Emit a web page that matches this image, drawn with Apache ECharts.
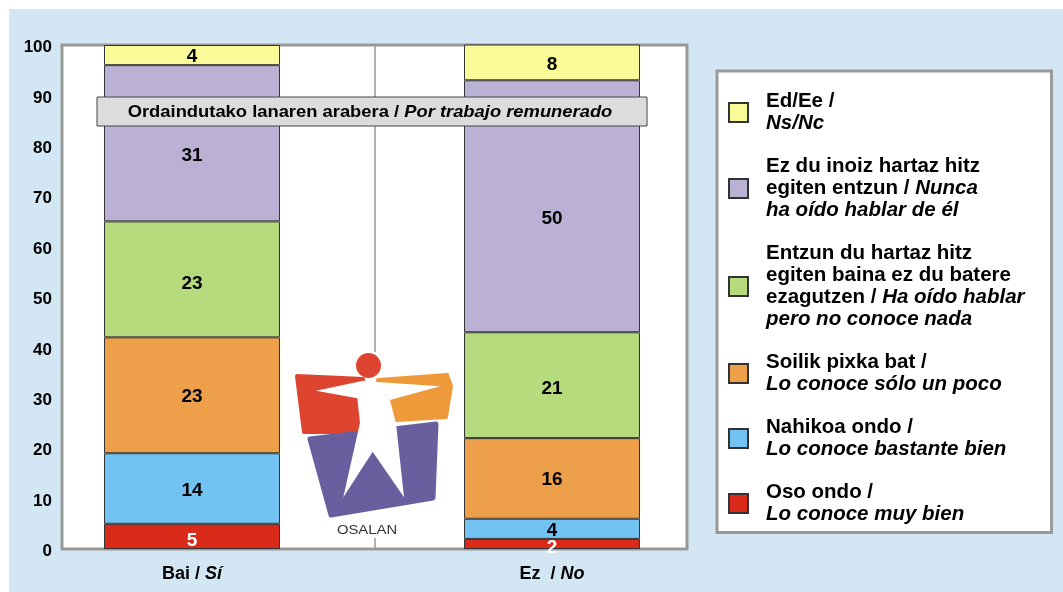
<!DOCTYPE html>
<html>
<head>
<meta charset="utf-8">
<script src="https://cdn.jsdelivr.net/npm/echarts@6/dist/echarts.min.js"></script>
<style>html,body{margin:0;padding:0;background:#fff;}#c{width:1063px;height:592px;}</style>
</head>
<body>
<div id="c"></div>
<script>
// ---- data ----
const categories = ['Bai / Sí', 'Ez  / No'];
const seriesNames = [
  'Oso ondo / Lo conoce muy bien',
  'Nahikoa ondo / Lo conoce bastante bien',
  'Soilik pixka bat / Lo conoce sólo un poco',
  'Entzun du hartaz hitz egiten baina ez du batere ezagutzen / Ha oído hablar pero no conoce nada',
  'Ez du inoiz hartaz hitz egiten entzun / Nunca ha oído hablar de él',
  'Ed/Ee / Ns/Nc'
];
const osoOndo     = [5, 2];
const nahikoaOndo = [14, 4];
const soilik      = [23, 16];
const entzunDu    = [23, 21];
const ezDuInoiz   = [31, 50];
const edEe        = [4, 8];
const legendLabels = [
  '{b|Oso ondo /}\n{i|Lo conoce muy bien}',
  '{b|Nahikoa ondo /}\n{i|Lo conoce bastante bien}',
  '{b|Soilik pixka bat /}\n{i|Lo conoce sólo un poco}',
  '{b|Entzun du hartaz hitz}\n{b|egiten baina ez du batere}\n{b|ezagutzen / }{i|Ha oído hablar}\n{i|pero no conoce nada}',
  '{b|Ez du inoiz hartaz hitz}\n{b|egiten entzun / }{i|Nunca}\n{i|ha oído hablar de él}',
  '{b|Ed/Ee /}\n{i|Ns/Nc}'
];
const bannerEu = 'Ordaindutako lanaren arabera / ';
const bannerEs = 'Por trabajo remunerado';
const logoText = 'OSALAN';

// ---- styling ----
const FONT = '"Liberation Sans", Arial, Helvetica, sans-serif';
const colors = ['#DA2A1A', '#73C3F2', '#EE9F4A', '#B5DB7D', '#BBB1D5', '#FAFA98'];
const values = [osoOndo, nahikoaOndo, soilik, entzunDu, ezDuInoiz, edEe];
const labelOffsets = [[0, 4], [0, 2], [0, 1], [0, 4], [0, 12], [0, 2]];

const chart = echarts.init(document.getElementById('c'), null, {renderer: 'canvas'});

const series = values.map((v, i) => ({
  name: seriesNames[i],
  type: 'bar',
  stack: 'total',
  xAxisIndex: 1,
  yAxisIndex: 1,
  barWidth: 176,
  data: v,
  itemStyle: {color: colors[i], borderColor: '#333', borderWidth: 1},
  label: {
    show: true,
    position: 'inside',
    offset: labelOffsets[i],
    formatter: '{c}',
    fontFamily: FONT,
    fontWeight: 'bold',
    fontSize: 19,
    color: i === 0 ? '#fff' : '#000'
  },
  emphasis: {disabled: true}
}));

const legendMap = {};
seriesNames.forEach((n, i) => legendMap[n] = legendLabels[i]);

const option = {
  backgroundColor: '#D3E6F4',
  animation: false,
  textStyle: {fontFamily: FONT},
  grid: [
    {left: 62, right: 376, top: 45, bottom: 43, show: true, backgroundColor: '#fff', borderColor: '#999', borderWidth: 3},
    {left: 12, right: 331, top: 45, bottom: 43}
  ],
  xAxis: [
    {gridIndex: 0, type: 'category', data: categories,
     axisLabel: {show: false}, axisLine: {show: false}, axisTick: {show: false},
     splitLine: {show: true, interval: 0, lineStyle: {color: '#999', width: 1.5}}},
    {gridIndex: 1, type: 'category', data: categories,
     axisLine: {show: false}, axisTick: {show: false},
     axisLabel: {
       margin: 16,
       formatter: function (val) {
         const k = val.indexOf('/');
         return '{b|' + val.slice(0, k + 1) + ' }{i|' + val.slice(k + 1).trim() + '}';
       },
       rich: {
         b: {fontFamily: FONT, fontWeight: 'bold', fontSize: 18, color: '#000'},
         i: {fontFamily: FONT, fontWeight: 'bold', fontStyle: 'italic', fontSize: 18, color: '#000'}
       }
     }}
  ],
  yAxis: [
    {gridIndex: 0, type: 'value', min: 0, max: 100, interval: 10,
     axisLine: {show: false}, axisTick: {show: false}, splitLine: {show: false},
     axisLabel: {
       margin: 10,
       formatter: v => '{n|' + v + '}',
       rich: {n: {fontFamily: FONT, fontWeight: 'bold', fontSize: 17, color: '#000', padding: [5, 0, 0, 0]}}
     }},
    {gridIndex: 1, type: 'value', min: 0, max: 100, show: false}
  ],
  legend: {
    orient: 'vertical',
    left: 717,
    top: 71,
    data: seriesNames.slice().reverse(),
    icon: 'rect',
    itemWidth: 19,
    itemHeight: 19,
    itemGap: 22.5,
    padding: [20, 27, 8, 11],
    backgroundColor: '#fff',
    borderColor: '#999',
    borderWidth: 3,
    borderRadius: 0,
    selectedMode: false,
    formatter: name => legendMap[name],
    textStyle: {
      padding: [0, 0, 0, 13],
      rich: {
        b: {fontFamily: FONT, fontWeight: 'bold', fontSize: 20.5, lineHeight: 22, color: '#000'},
        i: {fontFamily: FONT, fontWeight: 'bold', fontStyle: 'italic', fontSize: 20.5, lineHeight: 22, color: '#000'}
      }
    }
  },
  graphic: [
    // white outer strips
    {type: 'rect', shape: {x: 0, y: 0, width: 1063, height: 9}, style: {fill: '#fff'}, z: 0, silent: true},
    {type: 'rect', shape: {x: 0, y: 0, width: 9, height: 592}, style: {fill: '#fff'}, z: 0, silent: true},
    // logo
    {type: 'rect', shape: {x: 284, y: 352, width: 177, height: 186}, style: {fill: '#fff'}, z: 50, silent: true},
    {type: 'polygon', shape: {points: [[297, 376], [363, 379], [360, 432], [304, 432]]},
     style: {fill: '#DE4530', stroke: '#DE4530', lineWidth: 4, lineJoin: 'round'}, z: 51, silent: true},
    {type: 'polygon', shape: {points: [[378, 380], [447, 375], [451, 386], [446, 417], [380, 421]]},
     style: {fill: '#EE9A3A', stroke: '#EE9A3A', lineWidth: 4, lineJoin: 'round'}, z: 51, silent: true},
    {type: 'polygon', shape: {points: [[310, 439], [436, 424], [433, 498], [331, 515]]},
     style: {fill: '#6A5F9E', stroke: '#6A5F9E', lineWidth: 5, lineJoin: 'round'}, z: 51, silent: true},
    {type: 'circle', shape: {cx: 368.5, cy: 365.5, r: 12.5}, style: {fill: '#DE4530'}, z: 52, silent: true},
    {type: 'polygon', shape: {points: [[316, 390.7], [363.3, 380.7], [376.7, 382], [440, 386.3], [390, 400], [396, 423.3],
      [404, 497.3], [372.7, 451.7], [343.3, 497.3], [360, 422.7], [357.3, 398.3]]},
     style: {fill: '#fff'}, z: 53, silent: true},
    {type: 'text', x: 367, y: 530, scaleX: 1.1, style: {text: logoText, x: 0, y: 0, align: 'center', verticalAlign: 'middle',
      fontFamily: FONT, fontSize: 13.5, fill: '#333'}, z: 53, silent: true},
    // banner
    {type: 'rect', shape: {x: 97, y: 97, width: 550, height: 29},
     style: {fill: '#DCDCDC', stroke: '#444', lineWidth: 1}, z: 100, silent: true},
    {type: 'text', x: 370, y: 112, scaleX: 1.08, style: {
      text: '{b|' + bannerEu + '}{i|' + bannerEs + '}', x: 0, y: 0, align: 'center', verticalAlign: 'middle',
      rich: {
        b: {fontFamily: FONT, fontWeight: 'bold', fontSize: 17, fill: '#000'},
        i: {fontFamily: FONT, fontWeight: 'bold', fontStyle: 'italic', fontSize: 17, fill: '#000'}
      }}, z: 101, silent: true}
  ],
  series: series
};
chart.setOption(option);
</script>
</body>
</html>
